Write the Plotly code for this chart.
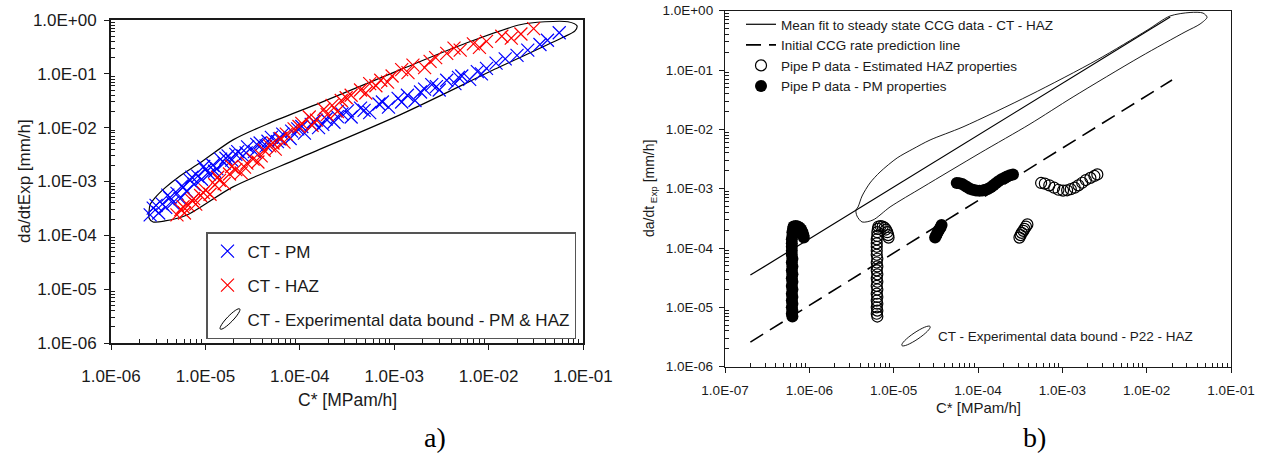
import plotly.graph_objects as go

W, H = 1263, 458

# ---------------- Panel a) data ----------------
pm_x = [2.6e-6, 2.8e-6, 3.2e-6, 3.5e-6, 3.8e-6, 4.2e-6, 4.5e-6, 5.0e-6, 5.4e-6, 5.8e-6,
        6.3e-6, 6.9e-6, 7.6e-6, 8.3e-6, 9.1e-6, 1.0e-5, 1.1e-5, 1.2e-5, 1.32e-5, 1.45e-5,
        1.58e-5, 1.74e-5, 1.9e-5, 2.2e-5, 2.5e-5, 2.8e-5, 3.3e-5, 3.8e-5, 4.4e-5, 5.0e-5,
        5.8e-5, 6.6e-5, 7.9e-5, 9.5e-5, 1.12e-4, 1.32e-4, 1.58e-4, 1.9e-4, 2.3e-4, 2.8e-4,
        3.5e-4, 4.4e-4, 5.5e-4, 6.9e-4, 8.7e-4, 1.1e-3, 1.38e-3, 1.66e-3, 2.1e-3, 2.5e-3,
        3.0e-3, 3.6e-3, 4.4e-3, 5.2e-3, 6.3e-3, 7.6e-3, 9.5e-3, 1.2e-2, 1.5e-2, 2.0e-2,
        2.6e-2, 3.5e-2, 4.2e-2, 5.6e-2,
        3.0e-6, 4.0e-6, 5.6e-6, 7.2e-6, 9.6e-6, 1.25e-5, 1.65e-5, 2.1e-5, 2.7e-5, 3.5e-5,
        4.6e-5, 6.1e-5, 8.2e-5, 1.05e-4, 1.4e-4, 1.75e-4, 2.5e-4, 3.2e-4, 4.8e-4, 7.5e-4,
        1.2e-3, 1.9e-3, 2.8e-3, 4.8e-3, 8.4e-3]
pm_y = [2.4e-4, 3.2e-4, 2.6e-4, 3.8e-4, 3.3e-4, 5.0e-4, 4.0e-4, 6.0e-4, 4.8e-4, 7.9e-4,
        6.6e-4, 1.05e-3, 8.9e-4, 1.26e-3, 1.1e-3, 1.66e-3, 1.38e-3, 2.0e-3, 1.74e-3, 2.6e-3,
        2.2e-3, 3.0e-3, 2.5e-3, 3.6e-3, 3.0e-3, 4.4e-3, 3.6e-3, 5.2e-3, 4.6e-3, 6.6e-3,
        5.5e-3, 7.6e-3, 6.3e-3, 9.5e-3, 7.9e-3, 1.15e-2, 1.0e-2, 1.45e-2, 1.26e-2, 1.8e-2,
        1.58e-2, 2.3e-2, 1.9e-2, 2.75e-2, 2.4e-2, 3.5e-2, 4.0e-2, 3.2e-2, 5.2e-2, 6.3e-2,
        5.0e-2, 7.6e-2, 6.6e-2, 9.1e-2, 7.9e-2, 0.11, 0.126, 0.158, 0.19, 0.22,
        0.275, 0.35, 0.42, 0.58,
        3.6e-4, 5.6e-4, 8.2e-4, 1.2e-3, 1.9e-3, 1.55e-3, 2.7e-3, 3.2e-3, 3.4e-3, 4.9e-3,
        5.6e-3, 6.2e-3, 8.6e-3, 1.05e-2, 1.3e-2, 1.15e-2, 1.6e-2, 2.05e-2, 2.1e-2, 3.0e-2,
        3.0e-2, 4.6e-2, 5.8e-2, 8.6e-2, 0.1]

haz_x = [5.0e-6, 5.5e-6, 6.0e-6, 6.6e-6, 7.2e-6, 7.9e-6, 8.9e-6, 1.0e-5, 1.12e-5, 1.26e-5,
         1.41e-5, 1.58e-5, 1.8e-5, 2.1e-5, 2.4e-5, 2.75e-5, 3.2e-5, 3.6e-5, 4.2e-5, 4.8e-5,
         5.5e-5, 6.3e-5, 7.2e-5, 8.7e-5, 1.05e-4, 1.26e-4, 1.5e-4, 1.8e-4, 2.2e-4, 2.75e-4,
         3.5e-4, 4.4e-4, 5.5e-4, 7.2e-4, 9.5e-4, 1.2e-3, 1.58e-3, 2.1e-3, 2.75e-3, 3.6e-3,
         5.0e-3, 6.9e-3, 9.5e-3, 1.38e-2, 1.74e-2, 3.0e-2,
         5.8e-6, 7.5e-6, 9.5e-6, 1.35e-5, 1.9e-5, 2.6e-5, 3.9e-5, 5.2e-5, 6.8e-5, 9.8e-5,
         1.35e-4, 1.95e-4, 2.5e-4, 3.1e-4, 5.0e-4, 6.4e-4, 8.5e-4, 1.4e-3, 2.4e-3, 4.3e-3,
         8.0e-3, 2.2e-2]
haz_y = [2.4e-4, 3.0e-4, 2.6e-4, 3.6e-4, 4.4e-4, 3.8e-4, 5.5e-4, 6.9e-4, 5.8e-4, 8.7e-4,
         1.05e-3, 9.1e-4, 1.38e-3, 1.66e-3, 1.45e-3, 2.2e-3, 2.6e-3, 2.3e-3, 3.8e-3, 4.6e-3,
         4.0e-3, 6.3e-3, 7.6e-3, 9.5e-3, 1.2e-2, 1.58e-2, 1.38e-2, 2.2e-2, 2.6e-2, 3.2e-2,
         4.0e-2, 5.0e-2, 6.6e-2, 7.6e-2, 9.1e-2, 0.12, 0.145, 0.13, 0.2, 0.24,
         0.275, 0.36, 0.4, 0.5, 0.46, 0.69,
         3.4e-4, 4.8e-4, 6.2e-4, 1.2e-3, 1.9e-3, 1.85e-3, 3.0e-3, 5.2e-3, 5.4e-3, 1.05e-2,
         1.1e-2, 1.75e-2, 2.0e-2, 3.6e-2, 4.4e-2, 6.0e-2, 7.0e-2, 0.105, 0.17, 0.3,
         0.31, 0.55]

bound_a_x = [2.53e-6, 2.59e-6, 2.92e-6, 3.73e-6, 5.38e-6, 8.77e-6, 1.96e-5, 4.83e-5, 1.64e-4,
             1.15e-3, 5.90e-3, 2.15e-2, 3.95e-2, 6.93e-2, 8.63e-2, 8.22e-2, 6.00e-2, 1.32e-2,
             1.15e-3, 1.00e-4, 1.96e-5, 6.38e-6, 3.73e-6, 2.79e-6, 2.53e-6, 2.53e-6]
bound_a_y = [2.72e-4, 3.67e-4, 4.95e-4, 7.60e-4, 1.27e-3, 2.22e-3, 5.93e-3, 1.23e-2, 2.89e-2,
             0.1186, 0.377, 0.815, 0.927, 0.927, 0.780, 0.630, 0.467, 0.135,
             1.73e-2, 2.75e-3, 7.94e-4, 2.39e-4, 1.85e-4, 1.77e-4, 2.10e-4, 2.72e-4]

# ---------------- Panel b) data ----------------
fit_x = [2.0e-7, 1.9e-2]
fit_y = [3.5e-5, 0.78]
pred_x = [2.0e-7, 2.0e-2]
pred_y = [2.6e-6, 0.068]

pipe_pm_x = [6.3e-7, 6.2e-7, 6.3e-7, 6.2e-7, 6.3e-7, 6.2e-7, 6.3e-7, 6.2e-7, 6.3e-7, 6.2e-7,
             6.3e-7, 6.2e-7, 6.3e-7, 6.2e-7, 6.3e-7, 6.2e-7, 6.3e-7, 6.2e-7, 6.2e-7, 6.2e-7,
             6.2e-7, 6.2e-7, 6.3e-7, 6.3e-7, 6.4e-7, 6.5e-7,
             6.9e-7, 7.3e-7, 7.7e-7, 8.0e-7, 8.3e-7, 8.5e-7, 8.6e-7,
             3.1e-5, 3.2e-5, 3.3e-5, 3.4e-5, 3.5e-5, 3.6e-5, 3.7e-5,
             5.6e-5, 6.0e-5, 6.5e-5, 7.0e-5, 7.5e-5, 8.0e-5, 8.7e-5, 9.5e-5, 1.04e-4, 1.13e-4,
             1.22e-4, 1.32e-4, 1.42e-4, 1.52e-4, 1.63e-4, 1.75e-4, 1.9e-4, 2.05e-4, 2.2e-4,
             2.4e-4, 2.6e-4]
pipe_pm_y = [7.0e-6, 7.8e-6, 8.8e-6, 1.0e-5, 1.15e-5, 1.3e-5, 1.5e-5, 1.7e-5, 2.0e-5, 2.3e-5,
             2.7e-5, 3.1e-5, 3.6e-5, 4.2e-5, 4.9e-5, 5.7e-5, 6.6e-5, 7.7e-5, 9.0e-5, 1.05e-4,
             1.2e-4, 1.4e-4, 1.6e-4, 1.85e-4, 2.1e-4, 2.3e-4,
             2.35e-4, 2.3e-4, 2.2e-4, 2.05e-4, 1.85e-4, 1.65e-4, 1.5e-4,
             1.5e-4, 1.65e-4, 1.8e-4, 1.95e-4, 2.1e-4, 2.25e-4, 2.45e-4,
             1.25e-3, 1.24e-3, 1.2e-3, 1.12e-3, 1.06e-3, 1.0e-3, 9.6e-4, 9.3e-4, 9.2e-4, 9.3e-4,
             9.6e-4, 1.0e-3, 1.06e-3, 1.14e-3, 1.24e-3, 1.34e-3, 1.44e-3, 1.52e-3, 1.6e-3,
             1.68e-3, 1.74e-3]

pipe_haz_x = [6.4e-6, 6.3e-6, 6.4e-6, 6.3e-6, 6.4e-6, 6.3e-6, 6.4e-6, 6.3e-6, 6.4e-6, 6.3e-6,
              6.4e-6, 6.3e-6, 6.4e-6, 6.3e-6, 6.4e-6, 6.3e-6, 6.4e-6, 6.3e-6, 6.3e-6, 6.3e-6,
              6.3e-6, 6.3e-6, 6.4e-6, 6.4e-6, 6.5e-6, 6.6e-6,
              7.0e-6, 7.4e-6, 7.8e-6, 8.1e-6, 8.4e-6, 8.6e-6, 8.7e-6,
              3.1e-4, 3.2e-4, 3.3e-4, 3.45e-4, 3.55e-4, 3.7e-4, 3.85e-4,
              5.6e-4, 6.2e-4, 7.0e-4, 8.0e-4, 9.0e-4, 1.02e-3, 1.14e-3, 1.26e-3, 1.4e-3,
              1.55e-3, 1.72e-3, 1.9e-3, 2.15e-3, 2.4e-3, 2.6e-3]
pipe_haz_y = [7.0e-6, 7.8e-6, 8.8e-6, 1.0e-5, 1.15e-5, 1.3e-5, 1.5e-5, 1.7e-5, 2.0e-5, 2.3e-5,
              2.7e-5, 3.1e-5, 3.6e-5, 4.2e-5, 4.9e-5, 5.7e-5, 6.6e-5, 7.7e-5, 9.0e-5, 1.05e-4,
              1.2e-4, 1.4e-4, 1.6e-4, 1.85e-4, 2.1e-4, 2.3e-4,
              2.35e-4, 2.3e-4, 2.2e-4, 2.05e-4, 1.85e-4, 1.65e-4, 1.5e-4,
              1.5e-4, 1.65e-4, 1.8e-4, 1.95e-4, 2.1e-4, 2.3e-4, 2.5e-4,
              1.25e-3, 1.22e-3, 1.14e-3, 1.04e-3, 9.6e-4, 9.3e-4, 9.4e-4, 9.8e-4, 1.04e-3,
              1.14e-3, 1.26e-3, 1.4e-3, 1.52e-3, 1.64e-3, 1.74e-3]

bound_b_x = [3.78e-6, 4.22e-6, 5.24e-6, 6.89e-6, 1.10e-5, 1.69e-5, 2.70e-5, 6.64e-5, 4.14e-4,
             2.58e-3, 1.01e-2, 1.89e-2, 3.27e-2, 4.66e-2, 5.20e-2, 4.30e-2, 2.85e-2, 8.34e-3,
             1.34e-3, 4.14e-4, 1.06e-4, 2.23e-5, 9.06e-6, 5.69e-6, 4.22e-6, 3.67e-6, 3.57e-6,
             3.78e-6]
bound_b_y = [4.92e-4, 7.53e-4, 1.25e-3, 1.91e-3, 3.30e-3, 4.67e-3, 6.62e-3, 1.10e-2, 3.79e-2,
             0.148, 0.468, 0.813, 0.933, 0.912, 0.776, 0.597, 0.438, 0.166,
             3.52e-2, 1.23e-2, 4.00e-3, 1.07e-3, 4.92e-4, 2.97e-4, 2.75e-4, 3.47e-4, 4.38e-4,
             4.92e-4]

# ---------------- tick labels ----------------
x_ticks_a = [1e-6, 1e-5, 1e-4, 1e-3, 1e-2, 1e-1]
x_labels_a = ["1.0E-06", "1.0E-05", "1.0E-04", "1.0E-03", "1.0E-02", "1.0E-01"]
x_ticks_b = [1e-7, 1e-6, 1e-5, 1e-4, 1e-3, 1e-2, 1e-1]
x_labels_b = ["1.0E-07", "1.0E-06", "1.0E-05", "1.0E-04", "1.0E-03", "1.0E-02", "1.0E-01"]
y_ticks = [1e-6, 1e-5, 1e-4, 1e-3, 1e-2, 1e-1, 1e0]
y_labels = ["1.0E-06", "1.0E-05", "1.0E-04", "1.0E-03", "1.0E-02", "1.0E-01", "1.0E+00"]

minor_vals = [m * 10.0 ** k for k in range(-8, 1) for m in range(2, 10)]

FONT = "Liberation Sans, Arial, sans-serif"

fig = go.Figure()

# ---- panel a traces ----
fig.add_trace(go.Scatter(x=bound_a_x, y=bound_a_y, mode="lines", xaxis="x", yaxis="y",
                         line=dict(color="black", width=1.2, shape="spline", smoothing=0.8),
                         showlegend=False, hoverinfo="skip"))
fig.add_trace(go.Scatter(x=pm_x, y=pm_y, mode="markers", name="CT - PM", xaxis="x", yaxis="y",
                         marker=dict(symbol="x-thin", size=13, color="#0000ff",
                                     line=dict(color="#0000ff", width=1.2)),
                         legend="legend", legendgroup="g1"))
fig.add_trace(go.Scatter(x=haz_x, y=haz_y, mode="markers", name="CT - HAZ", xaxis="x", yaxis="y",
                         marker=dict(symbol="x-thin", size=13, color="#ff0000",
                                     line=dict(color="#ff0000", width=1.2)),
                         legend="legend", legendgroup="g2"))
fig.add_trace(go.Scatter(x=[None], y=[None], mode="lines", xaxis="x", yaxis="y",
                         name="CT - Experimental data bound - PM & HAZ",
                         line=dict(color="rgba(0,0,0,0)", width=1),
                         legend="legend", legendgroup="g3"))

# ---- panel b traces ----
fig.add_trace(go.Scatter(x=bound_b_x, y=bound_b_y, mode="lines", xaxis="x2", yaxis="y2",
                         line=dict(color="black", width=0.9, shape="spline", smoothing=0.8),
                         showlegend=False, hoverinfo="skip"))
fig.add_trace(go.Scatter(x=fit_x, y=fit_y, mode="lines", xaxis="x2", yaxis="y2",
                         name="Mean fit to steady state CCG data - CT - HAZ",
                         line=dict(color="black", width=1.2), legend="legend2"))
fig.add_trace(go.Scatter(x=pred_x, y=pred_y, mode="lines", xaxis="x2", yaxis="y2",
                         name="Initial CCG rate prediction line",
                         line=dict(color="black", width=1.6, dash="15px,8px"), legend="legend2"))
fig.add_trace(go.Scatter(x=pipe_haz_x, y=pipe_haz_y, mode="markers", xaxis="x2", yaxis="y2",
                         name="Pipe P data - Estimated HAZ properties",
                         marker=dict(symbol="circle-open", size=11, color="black",
                                     line=dict(color="black", width=1.2)),
                         legend="legend2"))
fig.add_trace(go.Scatter(x=pipe_pm_x, y=pipe_pm_y, mode="markers", xaxis="x2", yaxis="y2",
                         name="Pipe P data - PM properties",
                         marker=dict(symbol="circle", size=12, color="black"),
                         legend="legend2"))
fig.add_trace(go.Scatter(x=[None], y=[None], mode="lines", xaxis="x2", yaxis="y2",
                         name="CT - Experimental data bound - P22 - HAZ",
                         line=dict(color="rgba(0,0,0,0)", width=1), legend="legend3"))


def axis_common(size, lw):
    return dict(type="log", showgrid=False, zeroline=False, showline=True, linecolor="#1a1a1a",
                linewidth=lw, mirror=True, ticks="outside", ticklen=5, tickwidth=1.2,
                tickcolor="#1a1a1a", automargin=False,
                tickfont=dict(size=size, family=FONT, color="#1a1a1a"),
                minor=dict(tickmode="array", tickvals=minor_vals, ticks="inside", ticklen=4,
                           tickwidth=1, tickcolor="#1a1a1a", showgrid=False))


xa = axis_common(17, 1.8)
xa.update(domain=[111 / W, 583 / W], range=[-6, -1], anchor="y", tickmode="array",
          tickvals=x_ticks_a, ticktext=x_labels_a, ticklabelstandoff=12)
ya = axis_common(17, 1.8)
ya.update(domain=[1 - 343 / H, 1 - 20 / H], range=[-6, 0], anchor="x", tickmode="array",
          tickvals=y_ticks, ticktext=y_labels, ticklabelstandoff=4)
xb = axis_common(13.5, 1.3)
xb.update(domain=[725 / W, 1231 / W], range=[-7, -1], anchor="y2", tickmode="array",
          tickvals=x_ticks_b, ticktext=x_labels_b, ticklabelstandoff=6)
yb = axis_common(13.5, 1.3)
yb.update(domain=[1 - 366.7 / H, 1 - 10.7 / H], range=[-6, 0], anchor="x2", tickmode="array",
          tickvals=y_ticks, ticktext=y_labels, ticklabelstandoff=3)


def ellipse_path(cx, cy, a, b, ang):
    import math
    t = math.radians(ang)
    ux, uy = math.cos(t), -math.sin(t)
    vx, vy = math.sin(t), math.cos(t)
    k = 0.5523

    def P(p, q):
        return f"{(cx + p * ux + q * vx) / W:.5f},{1 - (cy + p * uy + q * vy) / H:.5f}"

    return ("M" + P(a, 0) +
            " C" + P(a, k * b) + " " + P(k * a, b) + " " + P(0, b) +
            " C" + P(-k * a, b) + " " + P(-a, k * b) + " " + P(-a, 0) +
            " C" + P(-a, -k * b) + " " + P(-k * a, -b) + " " + P(0, -b) +
            " C" + P(k * a, -b) + " " + P(a, -k * b) + " " + P(a, 0) + " Z")


shapes = [
    dict(type="path", xref="paper", yref="paper", path=ellipse_path(230, 319, 14, 3, 46),
         line=dict(color="black", width=1)),
    dict(type="path", xref="paper", yref="paper", path=ellipse_path(916, 336, 17, 3.5, 34),
         line=dict(color="black", width=0.9)),
]

annotations = [
    dict(text="da/dtExp [mm/h]", x=24 / W, y=1 - 181 / H, textangle=-90,
         font=dict(size=17, family=FONT, color="#1a1a1a")),
    dict(text="C* [MPam/h]", x=347 / W, y=1 - 400 / H,
         font=dict(size=17.5, family=FONT, color="#1a1a1a")),
    dict(text="da/dt<sub> Exp</sub> [mm/h]", x=650 / W, y=1 - 189 / H, textangle=-90,
         font=dict(size=14, family=FONT, color="#1a1a1a")),
    dict(text="C* [MPam/h]", x=978 / W, y=1 - 407 / H,
         font=dict(size=15, family=FONT, color="#1a1a1a")),
    dict(text="a)", x=435 / W, y=1 - 437 / H,
         font=dict(size=28, family="Liberation Serif, Times New Roman, serif", color="black")),
    dict(text="b)", x=1034 / W, y=1 - 437 / H,
         font=dict(size=28, family="Liberation Serif, Times New Roman, serif", color="black")),
]
for an in annotations:
    an.update(xref="paper", yref="paper", showarrow=False, xanchor="center", yanchor="middle")

fig.update_layout(
    width=W, height=H, margin=dict(l=0, r=0, t=0, b=0, pad=0, autoexpand=False),
    paper_bgcolor="white", plot_bgcolor="white",
    font=dict(family=FONT, color="#1a1a1a"),
    xaxis=xa, yaxis=ya, xaxis2=xb, yaxis2=yb,
    legend=dict(x=206 / W, y=1 - 232 / H, xanchor="left", yanchor="top",
                bordercolor="#555", borderwidth=1.5, bgcolor="rgba(0,0,0,0)",
                font=dict(size=17, family=FONT, color="#1a1a1a"),
                traceorder="grouped", tracegroupgap=9),
    legend2=dict(x=741 / W, y=1 - 9 / H, xanchor="left", yanchor="top",
                 borderwidth=0, bgcolor="rgba(0,0,0,0)",
                 font=dict(size=13.5, family=FONT, color="#1a1a1a")),
    legend3=dict(x=898 / W, y=1 - 336 / H, xanchor="left", yanchor="middle",
                 borderwidth=0, bgcolor="rgba(0,0,0,0)",
                 font=dict(size=13.5, family=FONT, color="#1a1a1a")),
    shapes=shapes, annotations=annotations,
)

fig.write_html("out.html")
